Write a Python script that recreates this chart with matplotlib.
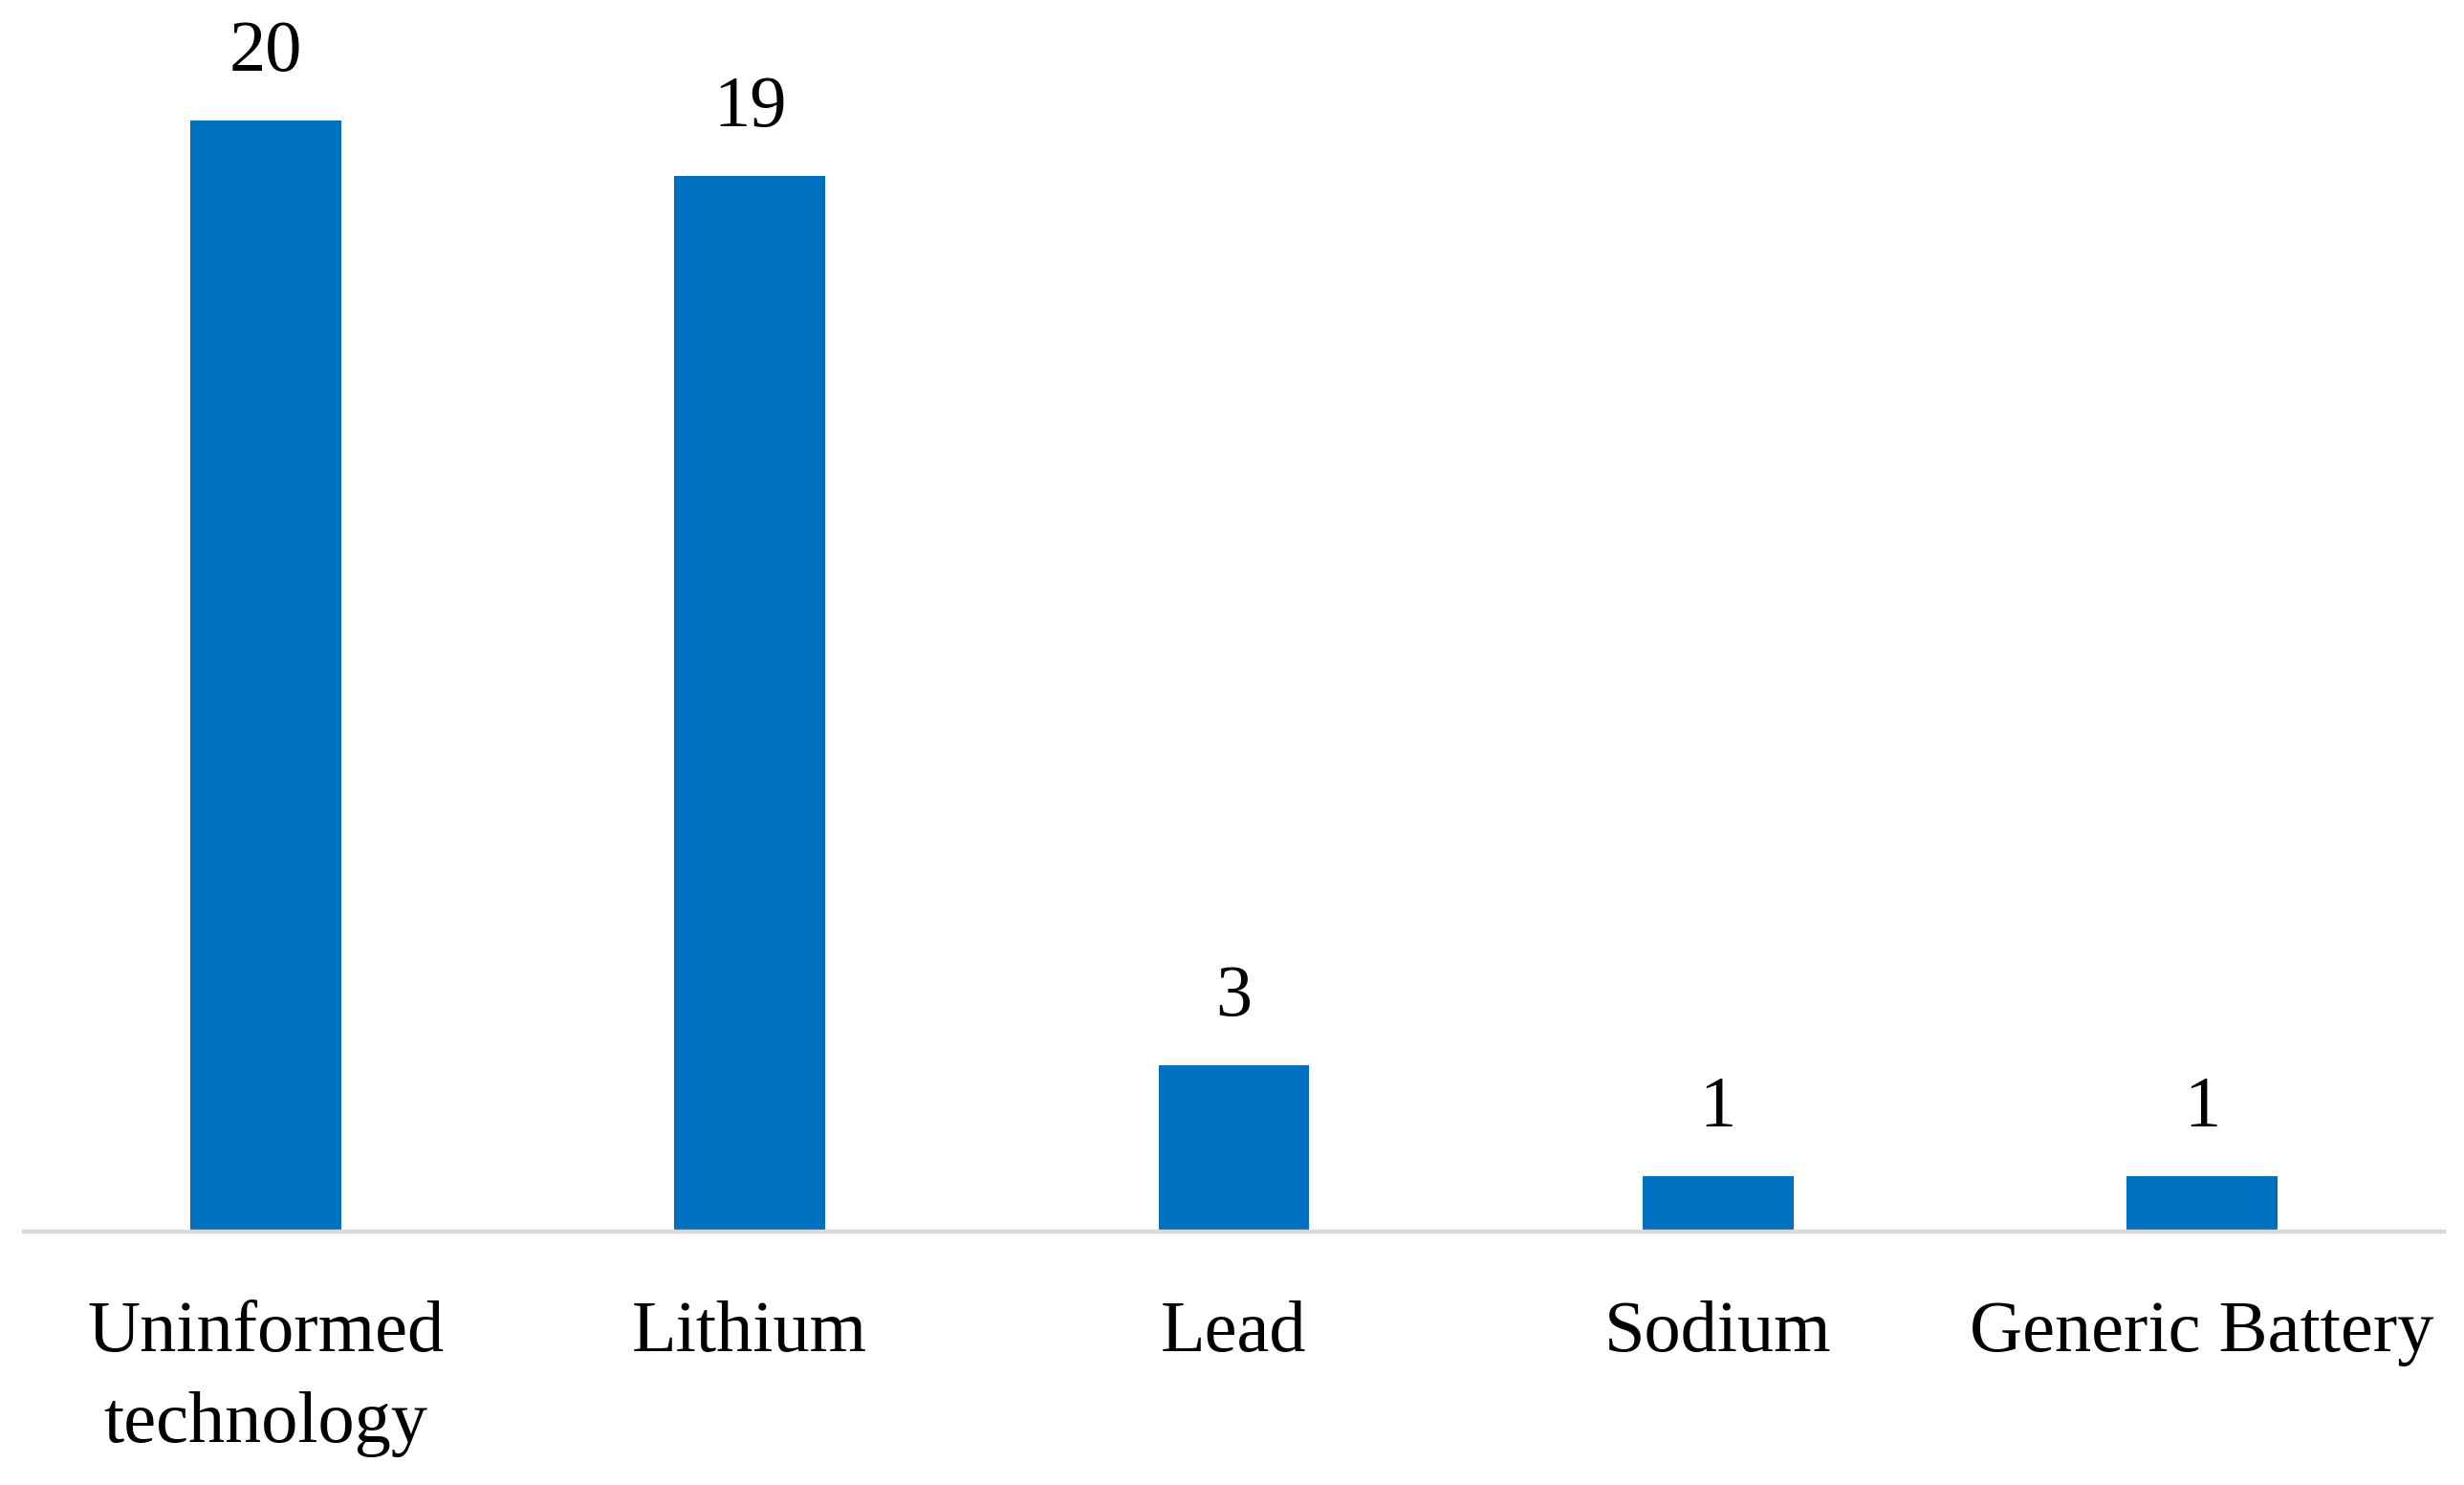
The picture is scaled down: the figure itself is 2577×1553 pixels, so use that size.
import matplotlib
matplotlib.use("Agg")
import matplotlib.pyplot as plt
import matplotlib.transforms as mtransforms

categories = ["Uninformed\ntechnology", "Lithium", "Lead", "Sodium", "Generic Battery"]
values = [20, 19, 3, 1, 1]

W, H, DPI = 2577, 1553, 100
fig = plt.figure(figsize=(W / DPI, H / DPI), dpi=DPI)
plt.rcParams['font.family'] = ['Liberation Serif', 'DejaVu Serif']

ax_left, ax_right = 25 / W, 2556 / W
ax_bottom_px = 1288
ax = fig.add_axes([ax_left, (H - ax_bottom_px) / H, ax_right - ax_left, ax_bottom_px / H])
ax.set_xlim(-0.5, len(categories) - 0.5)
ax.set_ylim(0, 22.17)

x = list(range(len(categories)))
bars = ax.bar(x, values, width=0.312, color="#0070C0", zorder=2)

for s in ["left", "right", "top"]:
    ax.spines[s].set_visible(False)
ax.spines["bottom"].set_color("#D9D9D9")
ax.spines["bottom"].set_linewidth(3.2)
ax.set_yticks([])
ax.set_xticks([])

fs = 55
for xi, v in zip(x, values):
    ax.annotate(str(v), (xi, v), xytext=(0, 52), textcoords="offset pixels",
                ha="center", va="baseline", fontsize=fs, color="black")

trans = ax.get_xaxis_transform()
line_gap = 95
for xi, lab in zip(x, categories):
    for k, line in enumerate(lab.split("\n")):
        off = mtransforms.offset_copy(trans, fig=fig, x=0, y=-(125 + k * line_gap), units="dots")
        ax.text(xi, 0, line, transform=off, ha="center", va="baseline", fontsize=fs, color="black")

fig.savefig("out.png", dpi=DPI)
